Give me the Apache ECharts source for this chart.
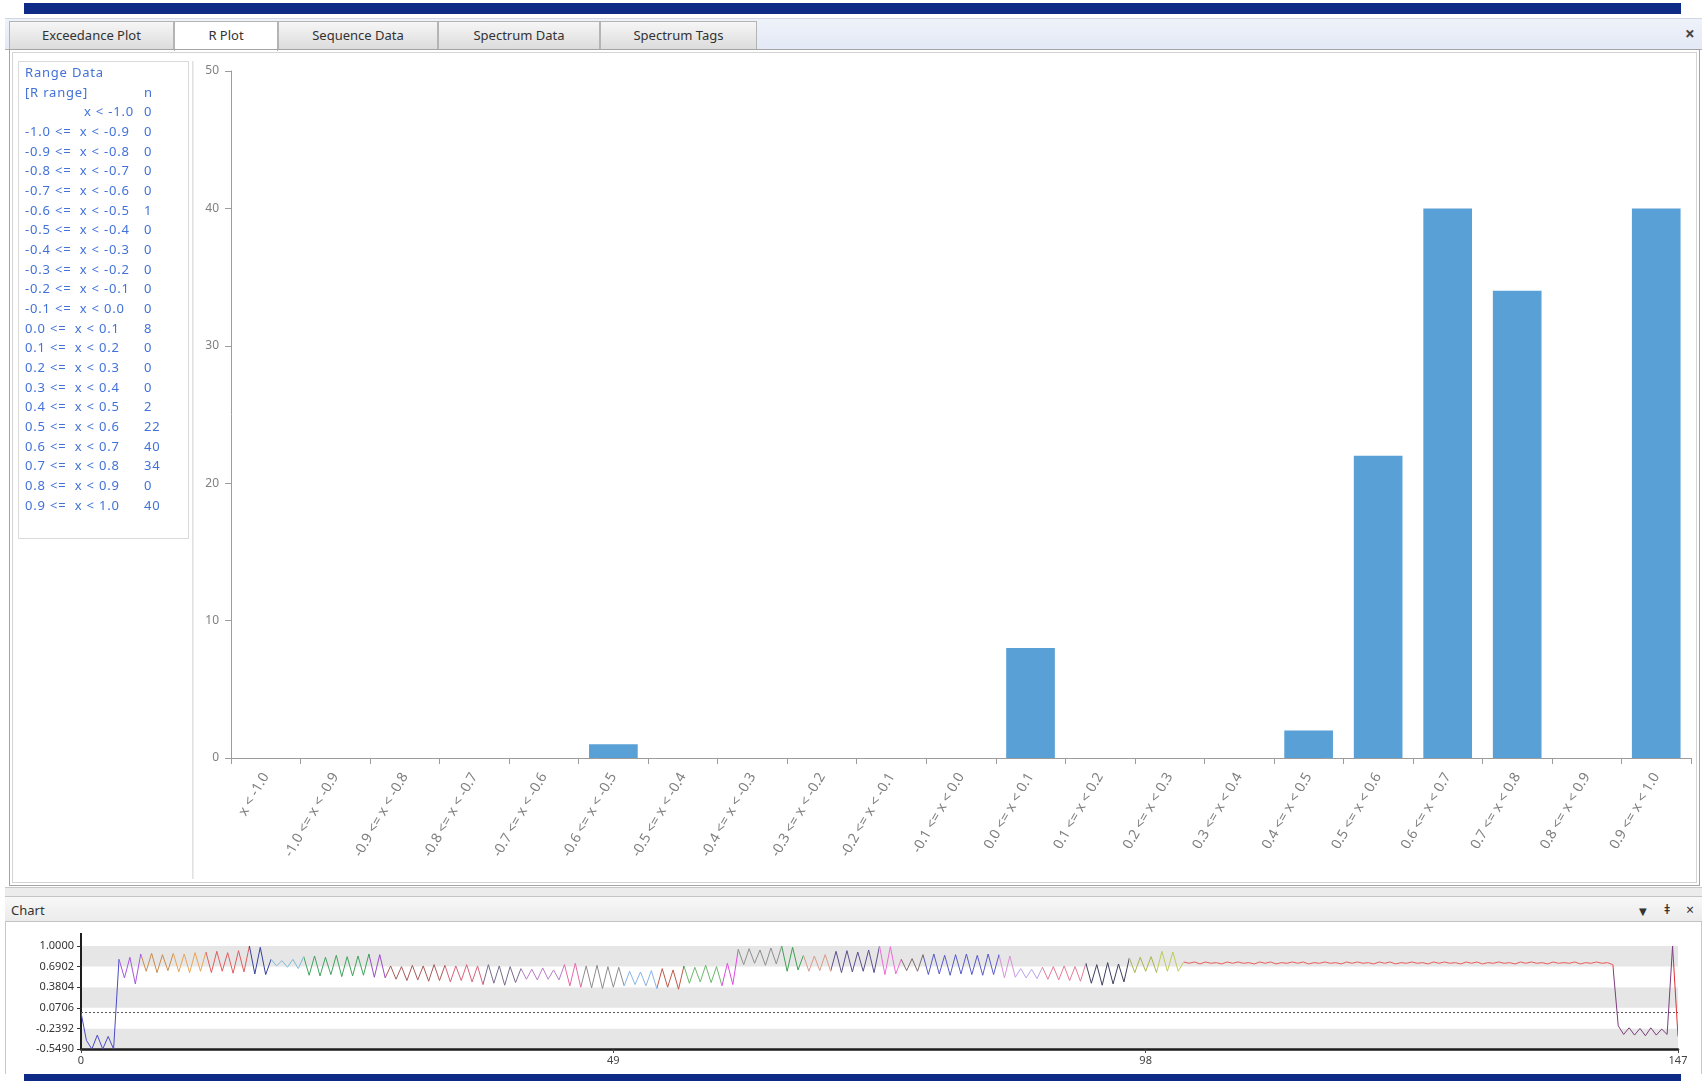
<!DOCTYPE html>
<html>
<head>
<meta charset="utf-8">
<title>R Plot</title>
<script src="https://cdn.jsdelivr.net/npm/echarts@6/dist/echarts.min.js"></script>
<style>
  html, body { margin: 0; padding: 0; width: 1703px; height: 1081px; overflow: hidden; background: #fff;
    font-family: "Noto Sans", "DejaVu Sans", sans-serif; }
  .abs { position: absolute; box-sizing: border-box; }
  #topbar { left: 24px; top: 3px; width: 1657px; height: 11px; background: #0e2a87; }
  #botbar { left: 24px; top: 1074px; width: 1657px; height: 7px; background: #0e2a87; }
  #tabstrip { left: 5px; top: 18px; width: 1697px; height: 32px; background: linear-gradient(#eef2fa, #e3e9f5);
    border-top: 1px solid #d0d6e2; border-bottom: 1px solid #b0b0b0; }
  .tab { position: absolute; top: 2px; height: 28px; box-sizing: border-box; background: linear-gradient(#f6f6f6, #dcdcdc);
    border: 1px solid #b4b4b4; border-bottom: none; font-size: 13px; color: #333; text-align: center; line-height: 26px; }
  .tab.active { background: #fff; height: 30px; }
  #closeTab { left: 1685px; top: 22px; font-size: 17px; font-weight: bold; color: #444; }
  #mainPanel { left: 9px; top: 49px; width: 1691px; height: 837px; border: 1px solid #a4a4a4; }
  #mainInner { left: 12px; top: 52px; width: 1685px; height: 831px; border: 1px solid #d4d4d4; }
  #rangeBox { left: 18px; top: 61px; width: 171px; height: 478px; border: 1px solid #dadada; }
  #sepLine { left: 192px; top: 61px; width: 2px; height: 818px; border-left: 1px solid #e2e2e2; border-right: 1px solid #ededed; }
  .rt { position: absolute; font-size: 13px; letter-spacing: 0.8px; color: #4272d8; white-space: pre; line-height: 14px; }
  #splitter { left: 5px; top: 887px; width: 1697px; height: 9px; background: #ececec; border-top: 1px solid #c8c8c8; }
  #chartHead { left: 5px; top: 896px; width: 1697px; height: 26px; background: linear-gradient(#f8f8f8, #ebebeb);
    border-top: 1px solid #c4c4c4; border-bottom: 1px solid #c4c4c4; }
  #chartHead span { position: absolute; top: 4px; font-size: 13px; color: #333; }
  #chartBody { left: 5px; top: 922px; width: 1697px; height: 152px; border-left: 1px solid #c8c8c8; border-right: 1px solid #c8c8c8; }
  #chart { position: absolute; left: 0; top: 0; width: 1703px; height: 1081px; }
</style>
</head>
<body>
<div id="topbar" class="abs"></div>
<div id="tabstrip" class="abs"></div>
<div id="closeTab" class="abs">×</div>
<div id="mainPanel" class="abs"></div>
<div id="mainInner" class="abs"></div>
<div id="rangeBox" class="abs"></div>
<div id="sepLine" class="abs"></div>
<div id="splitter" class="abs"></div>
<div id="chartHead" class="abs">
  <span style="left:6px">Chart</span>
  <span style="left:1634px;font-size:10px;top:7px">▼</span>
  <span style="left:1659px;font-size:12px;font-weight:bold">ǂ</span>
  <span style="left:1681px;font-size:14px;top:3px">×</span>
</div>
<div id="chartBody" class="abs"></div>
<div id="botbar" class="abs"></div>
<div id="chart"></div>

<script>
// ---- Tabs of the result window ----
const tabNames = ['Exceedance Plot', 'R Plot', 'Sequence Data', 'Spectrum Data', 'Spectrum Tags'];
const activeTab = 'R Plot';

// ---- R range histogram ----
const rangeLabels = [
  'x < -1.0',
  '-1.0 <= x < -0.9', '-0.9 <= x < -0.8', '-0.8 <= x < -0.7', '-0.7 <= x < -0.6', '-0.6 <= x < -0.5',
  '-0.5 <= x < -0.4', '-0.4 <= x < -0.3', '-0.3 <= x < -0.2', '-0.2 <= x < -0.1', '-0.1 <= x < 0.0',
  '0.0 <= x < 0.1', '0.1 <= x < 0.2', '0.2 <= x < 0.3', '0.3 <= x < 0.4', '0.4 <= x < 0.5',
  '0.5 <= x < 0.6', '0.6 <= x < 0.7', '0.7 <= x < 0.8', '0.8 <= x < 0.9', '0.9 <= x < 1.0'
];
const rangeCounts = [0, 0, 0, 0, 0, 1, 0, 0, 0, 0, 0, 8, 0, 0, 0, 2, 22, 40, 34, 0, 40];
const countAxisMax = 50;
const countAxisStep = 10;

// ---- R value sequence (two samples per cycle), split into coloured runs ----
const seqColors = [
  '#4a4ac8', '#a456e0', '#c98a4c', '#e8a456', '#e05c5c', '#34409c', '#7cbbd9', '#3ea35c', '#9a4ac8',
  '#a85a5a', '#d8607a', '#7a6a8c', '#b87ccc', '#e868a8', '#8c8c8c', '#88b4e8', '#c05848', '#6ab86a',
  '#e04ae0', '#8e8e8e', '#3ea052', '#d89a8a', '#5c4c8c', '#f06ad8', '#806a6a', '#5858c8', '#d892d8',
  '#b8a2e8', '#e47a9a', '#3e3e5e', '#a8b44a', '#bccc52', '#e85a5a', '#7a3c7c', '#e03030'
];
const seqRuns = [
  [0.00, -0.42, -0.55, -0.34, -0.55, -0.36, -0.55],
  [0.80, 0.52, 0.83, 0.43],
  [0.88, 0.62, 0.89, 0.60, 0.87, 0.63],
  [0.89, 0.61, 0.88, 0.60, 0.90, 0.62],
  [0.91, 0.60, 0.92, 0.62, 0.90, 0.59, 0.93, 0.61],
  [1.00, 0.58, 0.98, 0.57],
  [0.80, 0.70, 0.78, 0.68, 0.80, 0.66],
  [0.84, 0.56, 0.85, 0.55, 0.83, 0.57, 0.86, 0.54, 0.84, 0.55, 0.85, 0.56],
  [0.88, 0.53, 0.87],
  [0.52, 0.70, 0.50, 0.69, 0.48, 0.71, 0.49, 0.70, 0.47, 0.72, 0.48],
  [0.71, 0.46, 0.70, 0.48, 0.72, 0.46, 0.70],
  [0.42, 0.72, 0.44, 0.70, 0.41, 0.69, 0.45],
  [0.66, 0.50, 0.65, 0.49, 0.67, 0.50, 0.64, 0.49],
  [0.72, 0.40, 0.74],
  [0.38, 0.70, 0.37, 0.71, 0.36, 0.69, 0.38, 0.68],
  [0.40, 0.62, 0.42, 0.61, 0.40, 0.63],
  [0.36, 0.66, 0.38, 0.64, 0.35],
  [0.70, 0.44, 0.68, 0.46, 0.71, 0.45, 0.69],
  [0.40, 0.74, 0.42],
  [0.95, 0.72, 0.96, 0.74, 0.94, 0.71, 0.97, 0.73],
  [1.00, 0.62, 0.98, 0.64],
  [0.86, 0.62, 0.85, 0.63, 0.87],
  [0.62, 0.92, 0.60, 0.93, 0.61, 0.91, 0.62, 0.94, 0.60],
  [1.00, 0.57, 0.99, 0.58],
  [0.80, 0.63, 0.81, 0.62],
  [0.87, 0.57, 0.88, 0.58, 0.86, 0.56, 0.87, 0.58, 0.88, 0.57, 0.86, 0.56, 0.88, 0.57],
  [0.87, 0.52, 0.85],
  [0.53, 0.66, 0.52, 0.65, 0.51],
  [0.68, 0.50, 0.69, 0.49, 0.70, 0.48, 0.69, 0.47],
  [0.74, 0.44, 0.72, 0.41, 0.75, 0.43, 0.73, 0.46],
  [0.82, 0.60, 0.83, 0.62, 0.84],
  [0.60, 0.92, 0.62, 0.91, 0.62],
  [0.76, 0.74, 0.76, 0.73, 0.76, 0.74, 0.75, 0.73, 0.76, 0.74,
   0.76, 0.74, 0.75, 0.73, 0.76, 0.74, 0.76, 0.73, 0.75, 0.74,
   0.76, 0.74, 0.76, 0.73, 0.75, 0.74, 0.76, 0.74, 0.75, 0.73,
   0.76, 0.74, 0.76, 0.74, 0.75, 0.73, 0.76, 0.74, 0.76, 0.73,
   0.75, 0.74, 0.76, 0.74, 0.75, 0.73, 0.76, 0.74, 0.76, 0.74,
   0.75, 0.73, 0.76, 0.74, 0.76, 0.73, 0.75, 0.74, 0.76, 0.74,
   0.75, 0.73, 0.76, 0.74, 0.76, 0.74, 0.75, 0.73, 0.76, 0.74,
   0.75, 0.74, 0.76, 0.73, 0.75, 0.74, 0.76, 0.74, 0.75],
  [0.72, -0.20, -0.33, -0.23, -0.34, -0.24, -0.35, -0.23, -0.34, -0.25, -0.33],
  [1.00, -0.36]
];
const seqStepPerSample = 0.5;          // cycle count advanced by each sample
const seqAxisMin = -0.549;
const seqAxisMax = 1.0;
const seqAxisStep = 0.3098;
const seqCycleTicks = [0, 49, 98, 147];

// ---- window chrome built from the lists above ----
tabNames.forEach((name, i) => {
  const edges = [9, 174, 278, 438, 600, 757];
  const d = document.createElement('div');
  d.className = 'tab' + (name === activeTab ? ' active' : '');
  d.style.left = (edges[i] - 5) + 'px';
  d.style.width = (edges[i + 1] - edges[i]) + 'px';
  d.textContent = name;
  document.getElementById('tabstrip').appendChild(d);
});

// Range Data table
(function () {
  const box = document.body;
  const add = (txt, left, cy) => {
    const s = document.createElement('div');
    s.className = 'rt';
    s.textContent = txt;
    s.style.left = left + 'px';
    s.style.top = (cy - 7) + 'px';
    box.appendChild(s);
  };
  const rowH = 19.66, y0 = 72;
  add('Range Data', 25, y0);
  add('[R range]', 25, y0 + rowH);
  add('n', 144, y0 + rowH);
  rangeLabels.forEach((lab, i) => {
    const cy = y0 + (i + 2) * rowH;
    const txt = lab.replace(' <= ', ' <=  ');
    add(txt, lab.startsWith('x') ? 84 : 25, cy);
    add(String(rangeCounts[i]), 144, cy);
  });
})();

// ---- charts ----
const chart = echarts.init(document.getElementById('chart'), null, { renderer: 'canvas' });

const seqData = [];
let sampleIdx = 0;
const seqPieces = [];
seqRuns.forEach((run, k) => {
  const startX = sampleIdx * seqStepPerSample;
  run.forEach(v => {
    seqData.push([sampleIdx * seqStepPerSample, v - seqAxisMin]);
    sampleIdx++;
  });
  const piece = { gte: startX, color: seqColors[k] };
  if (k < seqRuns.length - 1) piece.lt = sampleIdx * seqStepPerSample;
  else piece.lte = seqCycleTicks[seqCycleTicks.length - 1];
  seqPieces.push(piece);
});

const grayTxt = '#808080';
const option = {
  animation: false,
  backgroundColor: 'transparent',
  textStyle: { fontFamily: '"Noto Sans", "DejaVu Sans", sans-serif' },
  grid: [
    { left: 231, right: 12, top: 71, bottom: 323, containLabel: false },
    { left: 81, right: 25, top: 946, bottom: 32, containLabel: false }
  ],
  xAxis: [
    {
      gridIndex: 0, type: 'category', data: rangeLabels,
      axisLine: { lineStyle: { color: '#9c9c9c', width: 1 } },
      axisTick: { show: true, alignWithLabel: false, length: 6, lineStyle: { color: '#9c9c9c' } },
      axisLabel: { rotate: 60, interval: 0, fontSize: 14, color: grayTxt, margin: 16 },
      splitLine: { show: false }
    },
    {
      gridIndex: 1, type: 'value', min: seqCycleTicks[0], max: seqCycleTicks[seqCycleTicks.length - 1],
      interval: seqCycleTicks[1] - seqCycleTicks[0],
      axisLine: { onZero: false, lineStyle: { color: '#1e1e1e', width: 2.5 } },
      axisTick: { show: true, length: 4, lineStyle: { color: '#444' } },
      axisLabel: { fontSize: 11, color: '#444', margin: 6 },
      splitLine: { show: false }
    }
  ],
  yAxis: [
    {
      gridIndex: 0, type: 'value', min: 0, max: countAxisMax, interval: countAxisStep,
      axisLine: { show: true, lineStyle: { color: '#9c9c9c', width: 1 } },
      axisTick: { show: true, length: 6, lineStyle: { color: '#9c9c9c' } },
      axisLabel: { fontSize: 12, color: grayTxt, margin: 12 },
      splitLine: { show: false }
    },
    {
      gridIndex: 1, type: 'value', min: 0, max: seqAxisMax - seqAxisMin, interval: seqAxisStep,
      axisLine: { show: true, onZero: false, lineStyle: { color: '#1e1e1e', width: 2 } },
      axisTick: { show: true, length: 4, lineStyle: { color: '#333' } },
      axisLabel: { fontSize: 11, color: '#333', margin: 7,
        formatter: v => (v + seqAxisMin).toFixed(4) },
      splitLine: { show: false },
      splitArea: { show: true, areaStyle: { color: ['#e6e6e6', '#ffffff'] } }
    }
  ],
  visualMap: {
    type: 'piecewise', show: false, dimension: 0, seriesIndex: 1,
    pieces: seqPieces
  },
  series: [
    {
      type: 'bar', xAxisIndex: 0, yAxisIndex: 0, data: rangeCounts,
      barCategoryGap: '30%',
      itemStyle: { color: '#58a0d5' },
      silent: true
    },
    {
      type: 'line', xAxisIndex: 1, yAxisIndex: 1, data: seqData,
      showSymbol: false, symbol: 'none', smooth: false,
      lineStyle: { width: 1 },
      silent: true,
      markLine: {
        silent: true, symbol: 'none', label: { show: false },
        lineStyle: { type: [2, 2], color: '#555', width: 1 },
        data: [{ yAxis: 0 - seqAxisMin }]
      }
    }
  ],
  // the sequence plot's value axis runs on a little past its top tick
  graphic: [{
    type: 'line', silent: true,
    shape: { x1: 81, y1: 933, x2: 81, y2: 946 },
    style: { stroke: '#1e1e1e', lineWidth: 2 }
  }]
};
chart.setOption(option);
</script>
</body>
</html>
